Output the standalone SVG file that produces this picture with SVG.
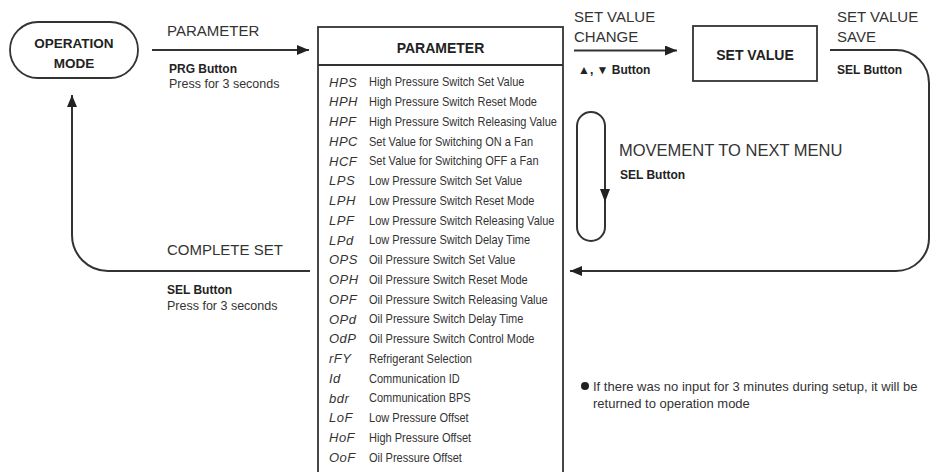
<svg xmlns="http://www.w3.org/2000/svg" width="930" height="472" viewBox="0 0 930 472">
<defs>
<marker id="ah" viewBox="0 0 12 10" refX="12" refY="5" markerWidth="12" markerHeight="10" markerUnits="userSpaceOnUse" orient="auto">
<path d="M0,0 L12,5 L0,10 Z" fill="#222"/>
</marker>
<style>
.ln{fill:none;stroke:#333;stroke-width:2}
.bx{fill:#fff;stroke:#333;stroke-width:1.8}
.lbl{font-family:"Liberation Sans",Arial,sans-serif;font-size:15px;fill:#333}
.b12{font-family:"Liberation Sans",Arial,sans-serif;font-size:12px;font-weight:bold;fill:#222}
.n13{font-family:"Liberation Sans",Arial,sans-serif;font-size:12.5px;fill:#333}
.hd{font-family:"Liberation Sans",Arial,sans-serif;font-size:14px;font-weight:bold;fill:#222;text-anchor:middle}
.code{font-family:"Liberation Sans",Arial,sans-serif;font-size:13px;font-style:italic;fill:#333;letter-spacing:0.5px}
.desc{font-family:"Liberation Sans",Arial,sans-serif;font-size:12px;fill:#333}
.note{font-family:"Liberation Sans",Arial,sans-serif;font-size:13px;fill:#333}
</style>
</defs>
<rect width="930" height="472" fill="#fff"/>

<g id="connectors">
<path class="ln" d="M152,50 H309" marker-end="url(#ah)"/>
<path class="ln" d="M574,50.5 H677" marker-end="url(#ah)"/>
<path class="ln" d="M830,50 H896 A33,33 0 0 1 929,83 V238 A33,33 0 0 1 896,271 H570" marker-end="url(#ah)"/>
<path class="ln" d="M310,271 H108 A36,36 0 0 1 72,235 V95" marker-end="url(#ah)"/>
</g>

<g id="operation-mode">
<rect class="bx" x="10" y="22" width="128" height="56" rx="28"/>
<text class="hd" x="74" y="48" style="font-size:13.5px">OPERATION</text>
<text class="hd" x="74" y="68" style="font-size:13.5px">MODE</text>
</g>

<g id="label-parameter">
<text class="lbl" x="167" y="36">PARAMETER</text>
<text class="b12" x="169" y="73">PRG Button</text>
<text class="n13" x="169" y="88">Press for 3 seconds</text>
</g>

<g id="parameter">
<rect class="bx" x="318" y="27" width="245" height="470"/>
<line class="ln" x1="318" y1="65" x2="563" y2="65" style="stroke-width:1.8"/>
<text class="hd" x="440.5" y="52.5">PARAMETER</text>
<g>
<text class="code" x="329" y="86.5">HPS</text>
<text class="code" x="329" y="106.2">HPH</text>
<text class="code" x="329" y="126">HPF</text>
<text class="code" x="329" y="145.7">HPC</text>
<text class="code" x="329" y="165.5">HCF</text>
<text class="code" x="329" y="185.2">LPS</text>
<text class="code" x="329" y="205">LPH</text>
<text class="code" x="329" y="224.7">LPF</text>
<text class="code" x="329" y="244.5">LPd</text>
<text class="code" x="329" y="264.2">OPS</text>
<text class="code" x="329" y="284">OPH</text>
<text class="code" x="329" y="303.7">OPF</text>
<text class="code" x="329" y="323.5">OPd</text>
<text class="code" x="329" y="343.2">OdP</text>
<text class="code" x="329" y="363">rFY</text>
<text class="code" x="329" y="382.7">Id</text>
<text class="code" x="329" y="402.5">bdr</text>
<text class="code" x="329" y="422.2">LoF</text>
<text class="code" x="329" y="442">HoF</text>
<text class="code" x="329" y="461.7">OoF</text>
</g>
<g transform="translate(369,0) scale(0.92,1)">
<text class="desc" x="0" y="86.5">High Pressure Switch Set Value</text>
<text class="desc" x="0" y="106.2">High Pressure Switch Reset Mode</text>
<text class="desc" x="0" y="126">High Pressure Switch Releasing Value</text>
<text class="desc" x="0" y="145.7">Set Value for Switching ON a Fan</text>
<text class="desc" x="0" y="165.5">Set Value for Switching OFF a Fan</text>
<text class="desc" x="0" y="185.2">Low Pressure Switch Set Value</text>
<text class="desc" x="0" y="205">Low Pressure Switch Reset Mode</text>
<text class="desc" x="0" y="224.7">Low Pressure Switch Releasing Value</text>
<text class="desc" x="0" y="244.5">Low Pressure Switch Delay Time</text>
<text class="desc" x="0" y="264.2">Oil Pressure Switch Set Value</text>
<text class="desc" x="0" y="284">Oil Pressure Switch Reset Mode</text>
<text class="desc" x="0" y="303.7">Oil Pressure Switch Releasing Value</text>
<text class="desc" x="0" y="323.5">Oil Pressure Switch Delay Time</text>
<text class="desc" x="0" y="343.2">Oil Pressure Switch Control Mode</text>
<text class="desc" x="0" y="363">Refrigerant Selection</text>
<text class="desc" x="0" y="382.7">Communication ID</text>
<text class="desc" x="0" y="402.5">Communication BPS</text>
<text class="desc" x="0" y="422.2">Low Pressure Offset</text>
<text class="desc" x="0" y="442">High Pressure Offset</text>
<text class="desc" x="0" y="461.7">Oil Pressure Offset</text>
</g>
</g>

<g id="label-set-value-change">
<text class="lbl" x="574" y="22">SET VALUE</text>
<text class="lbl" x="574" y="41.5">CHANGE</text>
<text class="b12" x="578" y="74">▲, ▼ Button</text>
</g>

<g id="set-value">
<rect class="bx" x="693" y="26" width="124" height="55"/>
<text class="hd" x="755" y="60">SET VALUE</text>
</g>

<g id="label-set-value-save">
<text class="lbl" x="837" y="22">SET VALUE</text>
<text class="lbl" x="837" y="41.5">SAVE</text>
<text class="b12" x="837" y="74">SEL Button</text>
</g>

<g id="movement">
<rect class="bx" x="577" y="112" width="28" height="129" rx="14" style="stroke-width:2"/>
<path d="M600,189 L610,189 L605,202 Z" fill="#222"/>
<text class="lbl" x="619" y="156" style="font-size:16.5px">MOVEMENT TO NEXT MENU</text>
<text class="b12" x="620" y="179">SEL Button</text>
</g>

<g id="label-complete-set">
<text class="lbl" x="167" y="255">COMPLETE SET</text>
<text class="b12" x="167" y="294">SEL Button</text>
<text class="n13" x="167" y="310">Press for 3 seconds</text>
</g>

<g id="note">
<circle cx="585" cy="386" r="4" fill="#222"/>
<text class="note" x="593" y="391">If there was no input for 3 minutes during setup, it will be</text>
<text class="note" x="593" y="408">returned to operation mode</text>
</g>
</svg>
